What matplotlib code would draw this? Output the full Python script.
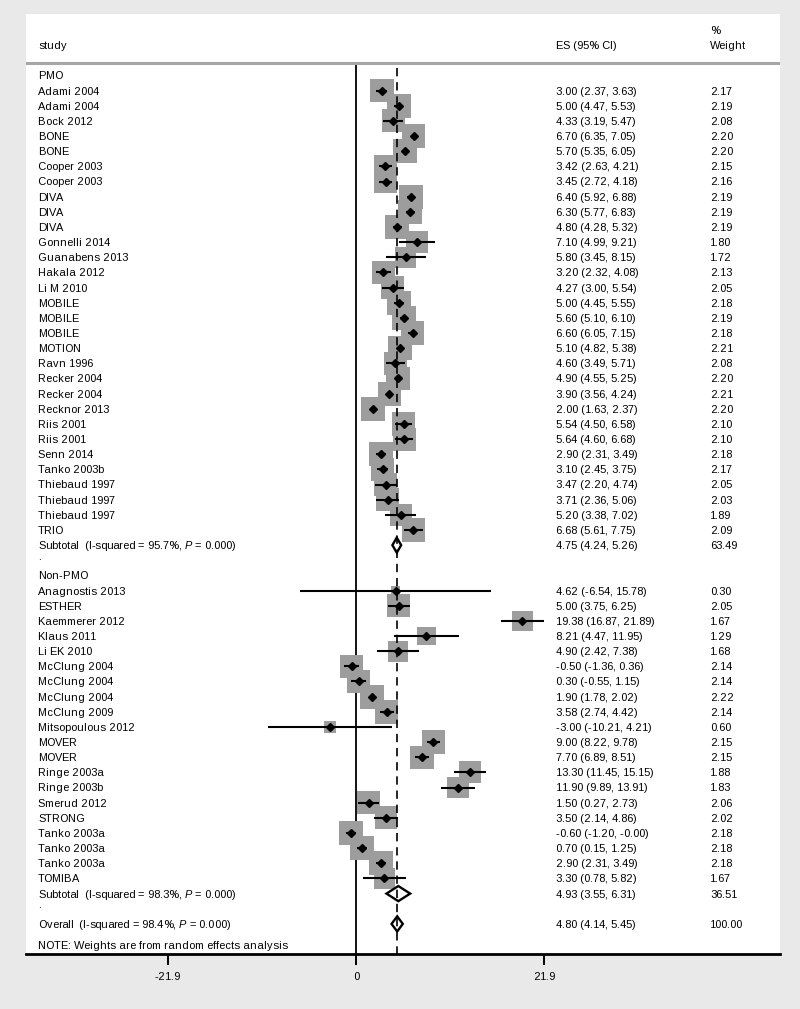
"""
Forest plot of effect sizes (ES, 95% CI) with random-effects weights,
split into PMO and Non-PMO subgroups, drawn in the usual Stata style.
"""
import matplotlib
matplotlib.use("Agg")
import matplotlib.pyplot as plt
import numpy as np

plt.rcParams["font.family"] = ["Liberation Sans", "DejaVu Sans"]
plt.rcParams["mathtext.fontset"] = "custom"
plt.rcParams["mathtext.rm"] = "Liberation Sans"
plt.rcParams["mathtext.it"] = "Liberation Sans:italic"
plt.rcParams["text.hinting"] = "force_autohint"
plt.rcParams["text.hinting_factor"] = 1  # keeps letter spacing even

# --- data -----------------------------------------------------------------
pmo_studies = ["Adami 2004", "Adami 2004", "Bock 2012", "BONE", "BONE",
               "Cooper 2003", "Cooper 2003", "DIVA", "DIVA", "DIVA",
               "Gonnelli 2014", "Guanabens 2013", "Hakala 2012", "Li M 2010",
               "MOBILE", "MOBILE", "MOBILE", "MOTION", "Ravn 1996",
               "Recker 2004", "Recker 2004", "Recknor 2013", "Riis 2001",
               "Riis 2001", "Senn 2014", "Tanko 2003b", "Thiebaud 1997",
               "Thiebaud 1997", "Thiebaud 1997", "TRIO"]
pmo_es = [3.00, 5.00, 4.33, 6.70, 5.70, 3.42, 3.45, 6.40, 6.30, 4.80,
          7.10, 5.80, 3.20, 4.27, 5.00, 5.60, 6.60, 5.10, 4.60, 4.90,
          3.90, 2.00, 5.54, 5.64, 2.90, 3.10, 3.47, 3.71, 5.20, 6.68]
pmo_lo = [2.37, 4.47, 3.19, 6.35, 5.35, 2.63, 2.72, 5.92, 5.77, 4.28,
          4.99, 3.45, 2.32, 3.00, 4.45, 5.10, 6.05, 4.82, 3.49, 4.55,
          3.56, 1.63, 4.50, 4.60, 2.31, 2.45, 2.20, 2.36, 3.38, 5.61]
pmo_hi = [3.63, 5.53, 5.47, 7.05, 6.05, 4.21, 4.18, 6.88, 6.83, 5.32,
          9.21, 8.15, 4.08, 5.54, 5.55, 6.10, 7.15, 5.38, 5.71, 5.25,
          4.24, 2.37, 6.58, 6.68, 3.49, 3.75, 4.74, 5.06, 7.02, 7.75]
pmo_w = [2.17, 2.19, 2.08, 2.20, 2.20, 2.15, 2.16, 2.19, 2.19, 2.19,
         1.80, 1.72, 2.13, 2.05, 2.18, 2.19, 2.18, 2.21, 2.08, 2.20,
         2.21, 2.20, 2.10, 2.10, 2.18, 2.17, 2.05, 2.03, 1.89, 2.09]

non_studies = ["Anagnostis 2013", "ESTHER", "Kaemmerer 2012", "Klaus 2011",
               "Li EK 2010", "McClung 2004", "McClung 2004", "McClung 2004",
               "McClung 2009", "Mitsopoulous 2012", "MOVER", "MOVER",
               "Ringe 2003a", "Ringe 2003b", "Smerud 2012", "STRONG",
               "Tanko 2003a", "Tanko 2003a", "Tanko 2003a", "TOMIBA"]
non_es = [4.62, 5.00, 19.38, 8.21, 4.90, -0.50, 0.30, 1.90, 3.58, -3.00,
          9.00, 7.70, 13.30, 11.90, 1.50, 3.50, -0.60, 0.70, 2.90, 3.30]
non_lo = [-6.54, 3.75, 16.87, 4.47, 2.42, -1.36, -0.55, 1.78, 2.74, -10.21,
          8.22, 6.89, 11.45, 9.89, 0.27, 2.14, -1.20, 0.15, 2.31, 0.78]
non_hi = [15.78, 6.25, 21.89, 11.95, 7.38, 0.36, 1.15, 2.02, 4.42, 4.21,
          9.78, 8.51, 15.15, 13.91, 2.73, 4.86, -0.00, 1.25, 3.49, 5.82]
non_w = [0.30, 2.05, 1.67, 1.29, 1.68, 2.14, 2.14, 2.22, 2.14, 0.60,
         2.15, 2.15, 1.88, 1.83, 2.06, 2.02, 2.18, 2.18, 2.18, 1.67]

# pooled estimates: (es, lo, hi, weight, I-squared, p)
pmo_sub = (4.75, 4.24, 5.26, 63.49, "95.7%", "0.000")
non_sub = (4.93, 3.55, 6.31, 36.51, "98.3%", "0.000")
overall = (4.80, 4.14, 5.45, 100.00, "98.4%", "0.000")

xtick_vals = [-21.9, 0, 21.9]

# --- layout (pixel geometry of the 800x1009 canvas) ------------------------
W, H = 800, 1009
PX_LEFT, PX_RIGHT, PX_TOP, PX_BOTTOM = 26, 780, 14, 954
PX_ZERO, PX_PER_UNIT = 356, 8.585
ROW0, ROW_H = 75.5, 15.15
FS = 7.8
BASE_OFF = 0.26  # baseline sits half a cap height below the row centre
BOX_GREY = "#9d9d9d"


def row_of(py):
    return (py - ROW0) / ROW_H


fig = plt.figure(figsize=(W / 100, H / 100), dpi=100, facecolor="#e9e9e9")
ax = fig.add_axes([PX_LEFT / W, 1 - PX_BOTTOM / H,
                   (PX_RIGHT - PX_LEFT) / W, (PX_BOTTOM - PX_TOP) / H])
ax.set_facecolor("white")
ax.set_xlim((PX_LEFT - PX_ZERO) / PX_PER_UNIT, (PX_RIGHT - PX_ZERO) / PX_PER_UNIT)
ax.set_ylim(row_of(PX_BOTTOM), row_of(PX_TOP))

tr = ax.get_yaxis_transform()  # x in axes fraction, y in data (rows)
X_STUDY = (38 - PX_LEFT) / (PX_RIGHT - PX_LEFT)
X_ES = (556 - PX_LEFT) / (PX_RIGHT - PX_LEFT)
X_W = (710 - PX_LEFT) / (PX_RIGHT - PX_LEFT)


def put_text(x, r, s, **kw):
    ax.text(x, r + BASE_OFF, s, transform=tr, fontsize=FS, va="baseline",
            ha="left", **kw)


def es_str(es, lo, hi):
    return f"{es:.2f} ({lo:.2f}, {hi:.2f})"


def pooled_label(name, isq, p):
    return f"{name}  (I-squared = {isq}, $\\it{{P}}$ = {p})"


# header
put_text(X_STUDY, row_of(45), "study")
put_text(X_ES, row_of(45), "ES (95% CI)")
put_text(X_W, row_of(30), "%")
put_text(X_W, row_of(45), "Weight")
header_row = row_of(63)
ax.axhline(header_row, color="#a6a6a6", lw=2.2, zorder=5)

# build row list
rows_es, rows_lo, rows_hi, rows_w, rows_y = [], [], [], [], []
r = 0
put_text(X_STUDY, r, "PMO")
r += 1
for name, es, lo, hi, w in zip(pmo_studies, pmo_es, pmo_lo, pmo_hi, pmo_w):
    put_text(X_STUDY, r, name)
    put_text(X_ES, r, es_str(es, lo, hi))
    put_text(X_W, r, f"{w:.2f}")
    rows_es.append(es); rows_lo.append(lo); rows_hi.append(hi)
    rows_w.append(w); rows_y.append(r)
    r += 1
pooled_rows = [(r, pmo_sub, "Subtotal")]
r += 1
put_text(X_STUDY, r - 0.3, ".")
r += 1
put_text(X_STUDY, r, "Non-PMO")
r += 1
for name, es, lo, hi, w in zip(non_studies, non_es, non_lo, non_hi, non_w):
    put_text(X_STUDY, r, name)
    put_text(X_ES, r, es_str(es, lo, hi))
    put_text(X_W, r, f"{w:.2f}")
    rows_es.append(es); rows_lo.append(lo); rows_hi.append(hi)
    rows_w.append(w); rows_y.append(r)
    r += 1
pooled_rows.append((r, non_sub, "Subtotal"))
r += 1
put_text(X_STUDY, r - 0.3, ".")
r += 1
pooled_rows.append((r, overall, "Overall"))
note_row = r + 1.4
put_text(X_STUDY, note_row, "NOTE: Weights are from random effects analysis")

# weight boxes (area proportional to weight)
sides_px = 16 * np.sqrt(np.array(rows_w))
ax.scatter(rows_es, rows_y, s=(sides_px * 0.72) ** 2, marker="s",
           color=BOX_GREY, edgecolor="none", zorder=2)

# confidence intervals and point estimates
ax.hlines(rows_y, rows_lo, rows_hi, color="black", lw=1.5, zorder=3)
ax.plot(rows_es, rows_y, ls="none", marker="D", ms=4.2, color="black", zorder=4)

# pooled diamonds
h = 0.5
for pr, (es, lo, hi, w, isq, p), name in pooled_rows:
    ax.fill([lo, es, hi, es], [pr, pr - h, pr, pr + h], facecolor="white",
            edgecolor="black", lw=1.7, zorder=3)
    put_text(X_STUDY, pr, pooled_label(name, isq, p))
    put_text(X_ES, pr, es_str(es, lo, hi))
    put_text(X_W, pr, f"{w:.2f}")

# reference lines
ymax = row_of(PX_BOTTOM)
ax.plot([0, 0], [header_row, ymax], color="black", lw=1.3, zorder=1)
ax.plot([overall[0], overall[0]], [header_row + 0.3, ymax], color="black",
        lw=1.2, dashes=(5, 3.5), zorder=6)

# axis styling
for side in ("top", "left", "right"):
    ax.spines[side].set_visible(False)
ax.spines["bottom"].set_linewidth(2)
ax.set_yticks([])
ax.set_xticks(xtick_vals)
ax.set_xticklabels([f"{v:g}" for v in xtick_vals])
ax.tick_params(axis="x", direction="out", length=8, width=1.4, pad=5,
               labelsize=FS)

fig.savefig("out.png", dpi=100, facecolor=fig.get_facecolor())
